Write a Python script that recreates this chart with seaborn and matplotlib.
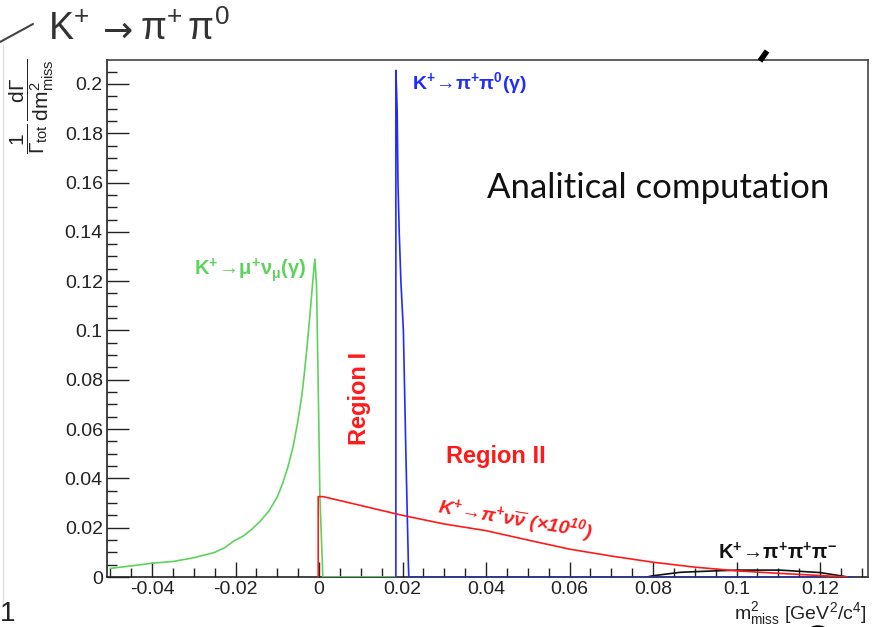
import numpy as np
import pandas as pd
import matplotlib
matplotlib.use("Agg")
import matplotlib.pyplot as plt
import seaborn as sns
from matplotlib.ticker import FixedLocator, FixedFormatter, MultipleLocator
from matplotlib.lines import Line2D
from matplotlib.patches import Ellipse

# ---------------- data ----------------
kmu2_x = [-0.05, -0.045, -0.04, -0.035, -0.03, -0.025, -0.0225, -0.0205, -0.018, -0.016,
          -0.014, -0.012, -0.010, -0.0086, -0.0074, -0.0062, -0.0051, -0.0041, -0.0035,
          -0.0029, -0.0023, -0.0017, -0.0013, -0.001, -0.0006, -0.0002, 0.0002, 0.0009, 0.0184]
kmu2_y = [0.0035, 0.0045, 0.0056, 0.0063, 0.0078, 0.0100, 0.0120, 0.0145, 0.0168, 0.0195,
          0.0228, 0.0268, 0.0325, 0.0385, 0.0450, 0.0530, 0.0630, 0.0740, 0.0830,
          0.0930, 0.1040, 0.1160, 0.1240, 0.1290, 0.118, 0.077, 0.033, 0.0, 0.0]

k2pi_x = [0.0184, 0.0184, 0.0187, 0.0189, 0.0192, 0.0196, 0.0202, 0.0208, 0.0214, 0.0215, 0.128]
k2pi_y = [0.0, 0.2055, 0.19, 0.16, 0.14, 0.12, 0.10, 0.05, 0.005, 0.0, 0.0]

pinn_x = [-0.0002, -0.0002, 0.001, 0.01, 0.02, 0.03, 0.04, 0.05, 0.06, 0.07,
          0.08, 0.09, 0.10, 0.11, 0.12, 0.1265]
pinn_y = [0.0, 0.0326, 0.0326, 0.0290, 0.0250, 0.0215, 0.0188, 0.0150, 0.0113, 0.0085,
          0.0060, 0.0040, 0.0025, 0.0015, 0.0006, 0.0]

k3pi_x = [0.0785, 0.08, 0.0865, 0.095, 0.1008, 0.1104, 0.12, 0.1267]
k3pi_y = [0.0, 0.0005, 0.0019, 0.0025, 0.0028, 0.0028, 0.0018, 0.0]

x_ticks = [-0.04, -0.02, 0.0, 0.02, 0.04, 0.06, 0.08, 0.10, 0.12]
x_tick_labels = ["-0.04", "-0.02", "0", "0.02", "0.04", "0.06", "0.08", "0.1", "0.12"]
y_ticks = [0.0, 0.02, 0.04, 0.06, 0.08, 0.10, 0.12, 0.14, 0.16, 0.18, 0.20]
y_tick_labels = ["0", "0.02", "0.04", "0.06", "0.08", "0.1", "0.12", "0.14", "0.16", "0.18", "0.2"]

# ---------------- style ----------------
sns.set_theme(style="white")
plt.rcParams["font.family"] = ["Liberation Sans", "DejaVu Sans"]
plt.rcParams["mathtext.fontset"] = "custom"
plt.rcParams["mathtext.rm"] = "Liberation Sans"
plt.rcParams["mathtext.it"] = "Liberation Sans:italic"
plt.rcParams["mathtext.bf"] = "Liberation Sans:bold"
plt.rcParams["mathtext.bfit"] = "Liberation Sans:bold:italic"
plt.rcParams["mathtext.sf"] = "Liberation Sans"

GREEN = "#5dd35d"
BLUE = "#1f2bff"
RED = "#ff1a1a"
BLACK = "#111111"

W, H = 878, 627
fig = plt.figure(figsize=(W / 100, H / 100), dpi=100)
fig.patch.set_facecolor("white")

def fx(px):
    return px / W

def fy(py):
    return 1 - py / H

ax = fig.add_axes([fx(107), fy(577), fx(868) - fx(107), fy(60) - fy(577)])
ax.set_facecolor("white")

df_g = pd.DataFrame({"x": kmu2_x, "y": kmu2_y})
df_b = pd.DataFrame({"x": k2pi_x, "y": k2pi_y})
df_r = pd.DataFrame({"x": pinn_x, "y": pinn_y})
df_k = pd.DataFrame({"x": k3pi_x, "y": k3pi_y})

common = dict(x="x", y="y", sort=False, estimator=None, ax=ax, linewidth=1.2)
sns.lineplot(data=df_g, color=GREEN, **common)
sns.lineplot(data=df_k, color=BLACK, **common)
sns.lineplot(data=df_b, color=BLUE, **common)
sns.lineplot(data=df_r, color=RED, **common)

ax.set_xlim(-0.0508, 0.1315)
ax.set_ylim(0, 0.2097)
ax.set_xlabel("")
ax.set_ylabel("")

ax.xaxis.set_major_locator(FixedLocator(x_ticks))
ax.xaxis.set_major_formatter(FixedFormatter(x_tick_labels))
ax.yaxis.set_major_locator(FixedLocator(y_ticks))
ax.yaxis.set_major_formatter(FixedFormatter(y_tick_labels))
ax.xaxis.set_minor_locator(MultipleLocator(0.005))
ax.yaxis.set_minor_locator(MultipleLocator(0.005))

ax.tick_params(axis="x", which="major", direction="in", length=11, width=1, color="#222222",
               labelsize=14, pad=3, bottom=True, top=False)
ax.tick_params(axis="x", which="minor", direction="in", length=6.5, width=1, color="#222222",
               bottom=True, top=False)
ax.tick_params(axis="y", which="major", direction="in", length=16, width=1, color="#222222",
               labelsize=14, pad=3, left=True, right=False)
ax.tick_params(axis="y", which="minor", direction="in", length=7.5, width=1, color="#222222",
               left=True, right=False)
for lab in ax.get_xticklabels() + ax.get_yticklabels():
    lab.set_color("#222222")

for s in ax.spines.values():
    s.set_visible(True)
    s.set_color("#444444")
    s.set_linewidth(1.2)
ax.spines["bottom"].set_color("#222222")
ax.spines["left"].set_color("#222222")
ax.spines["bottom"].set_zorder(0.5)

# ---------------- annotations ----------------
ARROW = r"\!\rightarrow\!"
ax.text(0.0223, 0.2004, r"$\mathbf{K^{+}" + ARROW + r"\pi^{+}\pi^{0}(\gamma)}$",
        color=BLUE, fontsize=14, ha="left", va="center")
ax.text(-0.0165, 0.1245, r"$\mathbf{K^{+}" + ARROW + r"\mu^{+}\nu_{\mu}(\gamma)}$",
        color=GREEN, fontsize=14.5, ha="center", va="center")
ax.text(0.0098, 0.0726, "Region I", color=RED, fontsize=17, fontweight="bold",
        rotation=90, ha="center", va="center")
ax.text(0.0424, 0.0487, "Region II", color=RED, fontsize=17, fontweight="bold",
        ha="center", va="center")
ax.text(0.0470, 0.0235, r"$\mathbfit{K^{+}" + ARROW + r"\pi^{+}\nu\overline{\nu}\ (\times10^{10})}$",
        color=RED, fontsize=14, ha="center", va="center", rotation=-9.5)
ax.text(0.1097, 0.0097, r"$\mathbf{K^{+}" + ARROW + r"\pi^{+}\pi^{+}\pi^{-}}$",
        color=BLACK, fontsize=14.5, ha="center", va="center")

fig.text(fx(487), fy(188), "Analitical computation", fontsize=25, family=["Lato", "DejaVu Sans"],
         color="#111111", ha="left", va="center")

# axis titles (ROOT style)
fig.text(fx(867), fy(619), r"$\mathrm{m^{2}_{miss}}$ [GeV$^{2}$/c$^{4}$]", fontsize=14,
         color="#222222", ha="right", va="baseline")
fig.text(fx(32), fy(58), r"$\dfrac{1}{\Gamma_{\mathrm{tot}}}\,\dfrac{\mathrm{d}\Gamma}{\mathrm{dm}^{2}_{\mathrm{miss}}}$",
         fontsize=15, rotation=90, color="#222222", ha="center", va="top")

# slide title
fig.text(fx(48), fy(40), r"$\mathrm{K^{+}}$", fontsize=27, color="#333333", ha="left", va="baseline")
fig.text(fx(103), fy(42), "\u2192", fontsize=26, color="#333333", ha="left", va="baseline",
         family=["DejaVu Sans"])
fig.text(fx(140), fy(40), r"$\mathrm{\pi^{+}\,\pi^{0}}$", fontsize=27, color="#333333",
         ha="left", va="baseline")

# screenshot fragments around the chart
fig.add_artist(Line2D([fx(0), fx(33)], [fy(42), fy(24)], color="#444444", lw=1.5))
fig.add_artist(Line2D([fx(2.5), fx(2.5)], [fy(45), fy(605)], color="#dddddd", lw=1))
fig.add_artist(Line2D([fx(760), fx(767)], [fy(61), fy(51)], color="black", lw=4,
                      solid_capstyle="butt"))
fig.text(fx(0), fy(627), "1", fontsize=20, color="#222222", ha="left", va="bottom")
fig.add_artist(Ellipse((fx(818), fy(641)), width=30 / W, height=30 / H,
                       transform=fig.transFigure, color="black"))

fig.savefig("out.png", dpi=100, facecolor="white")
